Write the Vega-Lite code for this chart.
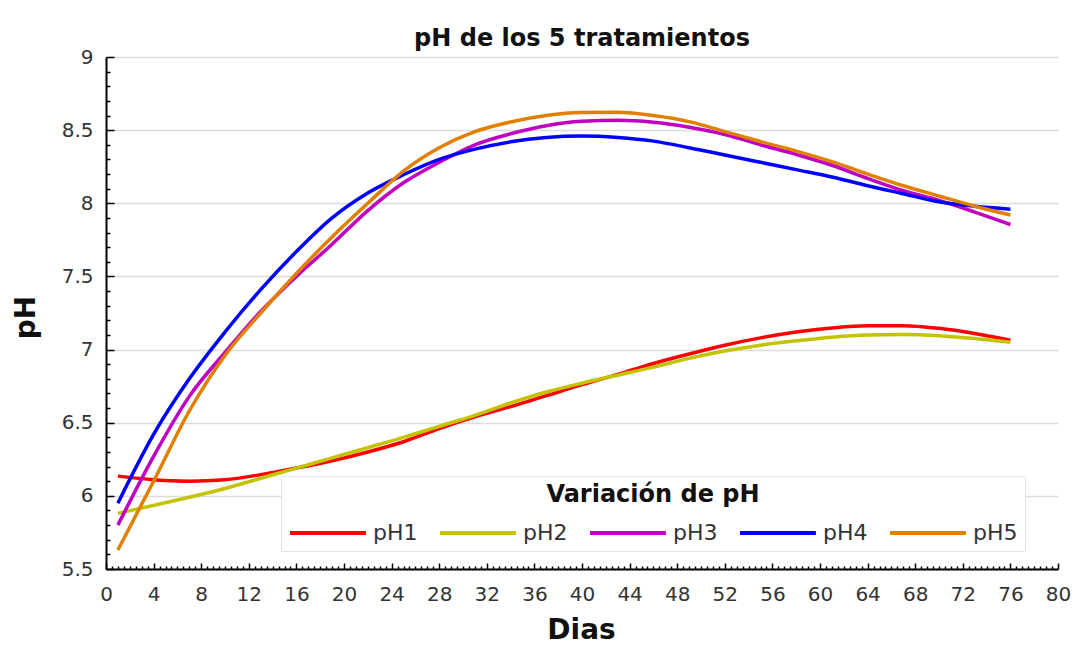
{
  "$schema": "https://vega.github.io/schema/vega-lite/v6.json",
  "width": 952,
  "height": 512,
  "autosize": {"type": "none"},
  "padding": {"left": 106, "top": 57, "right": 24, "bottom": 83},
  "background": "white",
  "title": {"text": "pH de los 5 tratamientos", "anchor": "middle", "frame": "group", "font": "DejaVu Sans", "fontSize": 24, "fontWeight": "bold", "color": "#111111", "baseline": "alphabetic", "offset": -23},
  "config": {"view": {"stroke": null}},
  "data": {"values": [
    {"dia": 1, "pH1": 6.135, "pH2": 5.88, "pH3": 5.80, "pH4": 5.95, "pH5": 5.63},
    {"dia": 4, "pH1": 6.11, "pH2": 5.935, "pH3": 6.27, "pH4": 6.42, "pH5": 6.10},
    {"dia": 7, "pH1": 6.10, "pH2": 5.99, "pH3": 6.68, "pH4": 6.80, "pH5": 6.58},
    {"dia": 10, "pH1": 6.11, "pH2": 6.05, "pH3": 6.98, "pH4": 7.12, "pH5": 6.96},
    {"dia": 13, "pH1": 6.145, "pH2": 6.12, "pH3": 7.26, "pH4": 7.41, "pH5": 7.25},
    {"dia": 16, "pH1": 6.19, "pH2": 6.19, "pH3": 7.50, "pH4": 7.67, "pH5": 7.52},
    {"dia": 19, "pH1": 6.24, "pH2": 6.26, "pH3": 7.72, "pH4": 7.90, "pH5": 7.77},
    {"dia": 22, "pH1": 6.30, "pH2": 6.33, "pH3": 7.95, "pH4": 8.07, "pH5": 8.00},
    {"dia": 25, "pH1": 6.37, "pH2": 6.40, "pH3": 8.14, "pH4": 8.195, "pH5": 8.22},
    {"dia": 28, "pH1": 6.46, "pH2": 6.475, "pH3": 8.28, "pH4": 8.30, "pH5": 8.38},
    {"dia": 31, "pH1": 6.54, "pH2": 6.55, "pH3": 8.40, "pH4": 8.37, "pH5": 8.49},
    {"dia": 34, "pH1": 6.61, "pH2": 6.635, "pH3": 8.475, "pH4": 8.42, "pH5": 8.556},
    {"dia": 37, "pH1": 6.685, "pH2": 6.71, "pH3": 8.53, "pH4": 8.45, "pH5": 8.60},
    {"dia": 40, "pH1": 6.76, "pH2": 6.77, "pH3": 8.56, "pH4": 8.46, "pH5": 8.62},
    {"dia": 43, "pH1": 6.83, "pH2": 6.825, "pH3": 8.567, "pH4": 8.45, "pH5": 8.622},
    {"dia": 46, "pH1": 6.905, "pH2": 6.88, "pH3": 8.554, "pH4": 8.425, "pH5": 8.60},
    {"dia": 49, "pH1": 6.97, "pH2": 6.94, "pH3": 8.52, "pH4": 8.38, "pH5": 8.558},
    {"dia": 52, "pH1": 7.03, "pH2": 6.99, "pH3": 8.47, "pH4": 8.33, "pH5": 8.49},
    {"dia": 55, "pH1": 7.08, "pH2": 7.03, "pH3": 8.40, "pH4": 8.28, "pH5": 8.422},
    {"dia": 58, "pH1": 7.12, "pH2": 7.06, "pH3": 8.334, "pH4": 8.23, "pH5": 8.357},
    {"dia": 61, "pH1": 7.148, "pH2": 7.085, "pH3": 8.26, "pH4": 8.18, "pH5": 8.285},
    {"dia": 64, "pH1": 7.163, "pH2": 7.10, "pH3": 8.17, "pH4": 8.12, "pH5": 8.20},
    {"dia": 67, "pH1": 7.163, "pH2": 7.103, "pH3": 8.086, "pH4": 8.065, "pH5": 8.12},
    {"dia": 70, "pH1": 7.145, "pH2": 7.095, "pH3": 8.02, "pH4": 8.01, "pH5": 8.05},
    {"dia": 73, "pH1": 7.11, "pH2": 7.075, "pH3": 7.94, "pH4": 7.98, "pH5": 7.98},
    {"dia": 76, "pH1": 7.064, "pH2": 7.05, "pH3": 7.855, "pH4": 7.96, "pH5": 7.92}
  ]},
  "transform": [{"fold": ["pH1", "pH2", "pH3", "pH4", "pH5"], "as": ["serie", "ph"]}],
  "mark": {"type": "line", "interpolate": "monotone", "strokeWidth": 3.5, "clip": true},
  "encoding": {
    "x": {
      "field": "dia", "type": "quantitative",
      "scale": {"domain": [0, 80], "nice": false, "zero": false},
      "axis": {
        "title": "Dias", "titleFont": "DejaVu Sans", "titleFontSize": 28, "titleFontWeight": "bold", "titleColor": "#111111",
        "titleX": 475, "titleY": 69, "titleBaseline": "alphabetic", "titleAlign": "center",
        "tickCount": 160, "grid": false, "labelOverlap": false, "labelFlush": false,
        "labelExpr": "datum.value % 4 === 0 ? '' + datum.value : ''",
        "labelFont": "DejaVu Sans", "labelFontSize": 20, "labelColor": "#333333", "labelPadding": 21,
        "domainColor": "#000000", "domainWidth": 2, "tickColor": "#000000", "tickWidth": 1.5,
        "tickSize": {"condition": {"test": "datum.value % 4 === 0", "value": -6}, "value": -3}
      }
    },
    "y": {
      "field": "ph", "type": "quantitative",
      "scale": {"domain": [5.5, 9], "nice": false, "zero": false},
      "axis": {
        "title": "pH", "titleFont": "DejaVu Sans", "titleFontSize": 28, "titleFontWeight": "bold", "titleColor": "#111111",
        "titleX": -72, "titleY": 260, "titleBaseline": "alphabetic", "titleAlign": "center", "titleAngle": -90,
        "tickCount": 35, "labelOverlap": false, "labelFlush": false,
        "labelExpr": "abs(datum.value * 2 - round(datum.value * 2)) < 0.001 ? '' + round(datum.value * 10) / 10 : ''",
        "labelFont": "DejaVu Sans", "labelFontSize": 20, "labelColor": "#333333", "labelPadding": 21,
        "domainColor": "#000000", "domainWidth": 2, "tickColor": "#000000", "tickWidth": 1.5,
        "tickSize": {"condition": {"test": "abs(datum.value * 2 - round(datum.value * 2)) < 0.001", "value": -8}, "value": -4},
        "grid": true, "gridColor": "#dcdcdc", "gridWidth": 1.5,
        "gridOpacity": {"condition": {"test": "abs(datum.value * 2 - round(datum.value * 2)) < 0.001", "value": 1}, "value": 0}
      }
    },
    "color": {
      "field": "serie", "type": "nominal",
      "scale": {"domain": ["pH1", "pH2", "pH3", "pH4", "pH5"], "range": ["#ff0000", "#c3c300", "#c000c0", "#0000ff", "#e07f00"]},
      "legend": {
        "orient": "none", "legendX": 175, "legendY": 419, "direction": "horizontal", "columns": 5,
        "title": "Variación de pH", "titleFont": "DejaVu Sans", "titleFontSize": 24, "titleFontWeight": "bold",
        "titleColor": "#111111", "titleAnchor": "middle", "titlePadding": 13, "titleLimit": 0,
        "labelFont": "DejaVu Sans", "labelFontSize": 22, "labelColor": "#333333", "labelOffset": 59, "labelLimit": 0,
        "symbolType": "M-1,0H5.9", "symbolSize": 484, "symbolStrokeWidth": 4,
        "columnPadding": 14, "padding": 7, "fillColor": "white", "strokeColor": "#e4e4e4"
      }
    }
  }
}
